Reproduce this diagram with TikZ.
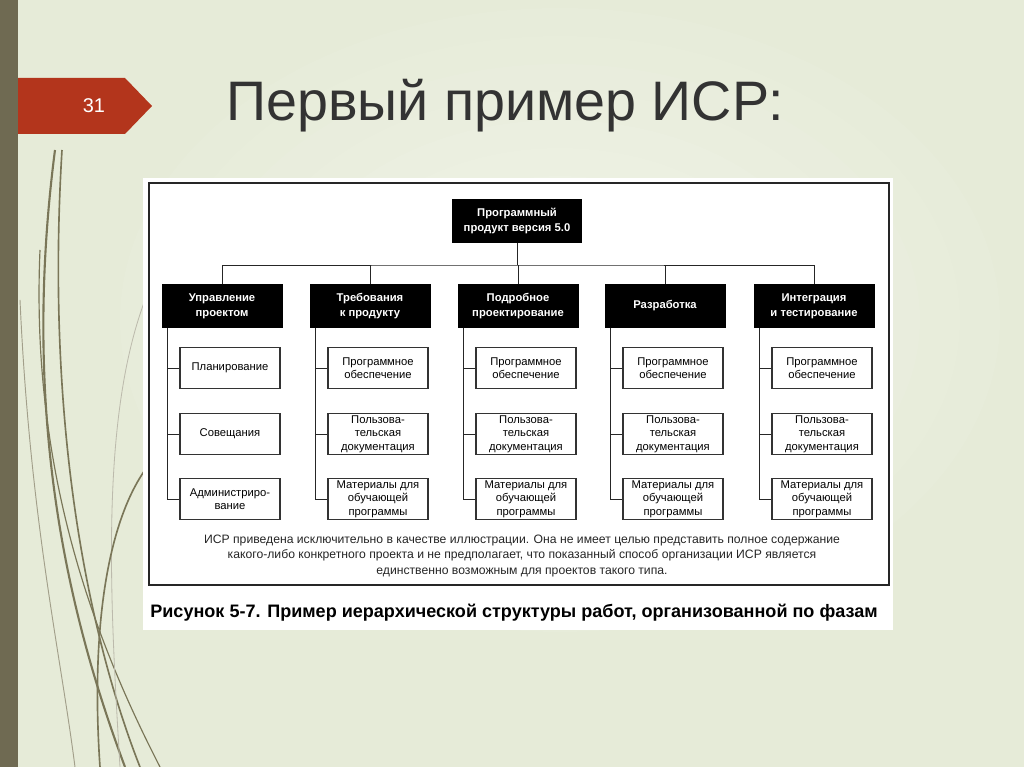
\documentclass[tikz,border=0pt]{standalone}
\usepackage{fontspec}
\setmainfont{Liberation Sans}
\usetikzlibrary{positioning, calc}
\definecolor{slidebg}{HTML}{E6EBD8}
\definecolor{barcol}{HTML}{6F6A52}
\definecolor{tabred}{HTML}{B3351C}
\definecolor{vine}{HTML}{7A7658}

\begin{document}
\begin{tikzpicture}[
    x=0.03cm, y=-0.03cm,
    phase/.style={rectangle, fill=black, draw=black, text=white, font=\fontsize{9.6}{12.5}\selectfont\bfseries, align=center, minimum width=3.6cm, minimum height=1.29cm, inner sep=1pt},
    item/.style={rectangle, draw=black!80, fill=white, line width=0.9pt, font=\fontsize{9.6}{11.4}\selectfont, align=center, minimum width=3.0cm, minimum height=1.25cm, inner sep=0.5pt},
    link/.style={black!85, line width=0.8pt},
]

% Background
\fill[slidebg] (0,0) rectangle (1024,767);
\foreach \s in {1,...,8} {
    \fill[white!\the\numexpr 4*\s\relax!slidebg] (560,320) ellipse ({480-40*\s} and {340-28*\s});
}
\useasboundingbox (0,0) rectangle (1024,767);

% Decorative vines
\draw[vine, line width=1.8pt] (55,150) .. controls (20,420) and (70,620) .. (125,767);
\draw[vine, line width=1.4pt] (62,150) .. controls (45,430) and (90,640) .. (140,767);
\draw[vine, line width=1.0pt] (40,250) .. controls (30,480) and (100,650) .. (160,767);
\draw[vine!70, line width=0.8pt] (20,300) .. controls (30,520) and (60,650) .. (75,767);
\draw[vine!50, line width=0.7pt] (145,300) .. controls (100,420) and (110,600) .. (120,767);
\draw[vine, line width=1.4pt] (100,767) .. controls (90,620) and (110,520) .. (145,470);

% Left bar and number tab
\fill[barcol] (0,0) rectangle (18,767);
\fill[tabred] (18,78) -- (125,78) -- (152,106) -- (125,134) -- (18,134) -- cycle;
\node[text=white, font=\fontsize{17}{17}\selectfont] (num) at (94,106) {31};

% Title
\node[anchor=west, text=black!80, font=\fontsize{47.5}{48}\selectfont] (title) at (222,106) {Первый пример ИСР:};

% Figure panel
\fill[white] (143,178) rectangle (893,630);
\draw[black!85, line width=1.2pt] (149,183) rectangle (889,585);

% Root
\node[phase, minimum width=3.87cm] (root) at (517,221) {Программный\\продукт версия 5.0};

% Phases
\node[phase] (upr) at (222,306) {Управление\\проектом};
\node[phase] (treb) at (370,306) {Требования\\к продукту};
\node[phase] (podr) at (518,306) {Подробное\\проектирование};
\node[phase] (razr) at (665,306) {Разработка};
\node[phase] (integr) at (814,306) {Интеграция\\и тестирование};

% Bus
\coordinate (bus) at (517,265);
\draw[link] (root.south) -- (bus);
\draw[link] (upr.north) |- (bus) -| (integr.north);
\foreach \p in {treb, podr, razr} {
    \draw[link] (\p.north) -- (\p.north |- bus);
}

% Work packages, first column
\node[item] (upr1) at (230,368) {Планирование};
\node[item] (upr2) at (230,434) {Совещания};
\node[item] (upr3) at (230,499) {Администриро-\\вание};
\foreach \k in {1,2,3} {
    \draw[link] ($(upr.south west)+(6,0)$) |- (upr\k.west);
}

% Work packages, other columns
\foreach \p in {treb, podr, razr, integr} {
    \node[item] (\p1) at ($(\p)+(8,62)$) {Программное\\обеспечение};
    \node[item] (\p2) at ($(\p)+(8,128)$) {Пользова-\\тельская\\документация};
    \node[item] (\p3) at ($(\p)+(8,193)$) {Материалы для\\обучающей\\программы};
    \foreach \k in {1,2,3} {
        \draw[link] ($(\p.south west)+(6,0)$) |- (\p\k.west);
    }
}

% Note
\node[font=\fontsize{10.4}{13.3}\selectfont, align=center, text=black!85] (note) at (522,556) {ИСР приведена исключительно в качестве иллюстрации. Она не имеет целью представить полное содержание\\какого-либо конкретного проекта и не предполагает, что показанный способ организации ИСР является\\единственно возможным для проектов такого типа.};

% Caption
\node[font=\fontsize{15.4}{17}\selectfont\bfseries] (caption) at (514,613) {Рисунок 5-7. Пример иерархической структуры работ, организованной по фазам};

\end{tikzpicture}
\end{document}
